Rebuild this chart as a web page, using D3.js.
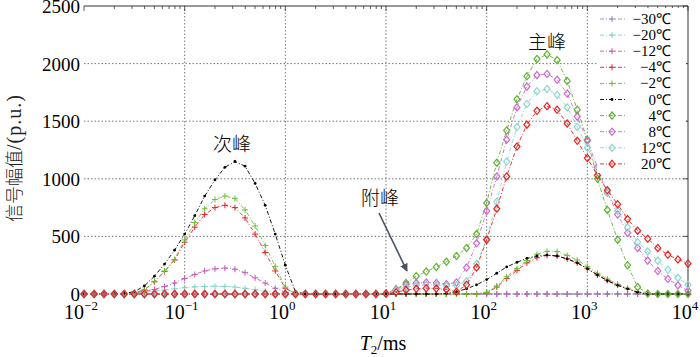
<!DOCTYPE html>
<html lang="zh">
<head>
    <meta charset="UTF-8">
    <title>T2 spectra</title>
    <script src="https://d3js.org/d3.v7.min.js"></script>
    <style>
        body {margin: 0; background: white;}
        text {font-family: "Liberation Serif", "Times New Roman", serif;}
        .cjk {font-family: "Noto Sans CJK SC", sans-serif; font-weight: 300;}
        .grid {stroke: #555; stroke-width: .8; stroke-dasharray: 1.5, 2; fill: none;}
    </style>
</head>
<body>
<script>
    const width = 700;
    const height = 357;

    // T2 grid (ms), 10 points per decade
    const t2 = [
        0.01, 0.0126, 0.0158, 0.02, 0.0251, 0.0316, 0.0398, 0.0501, 0.0631, 0.0794,
        0.1, 0.126, 0.158, 0.2, 0.251, 0.316, 0.398, 0.501, 0.631, 0.794,
        1, 1.26, 1.58, 2, 2.51, 3.16, 3.98, 5.01, 6.31, 7.94,
        10, 12.6, 15.8, 20, 25.1, 31.6, 39.8, 50.1, 63.1, 79.4,
        100, 126, 158, 200, 251, 316, 398, 501, 631, 794,
        1000, 1260, 1580, 2000, 2510, 3160, 3980, 5010, 6310, 7940,
        10000
    ];

    const labels = ["\u221230\u2103", "\u221220\u2103", "\u221212\u2103", "\u22124\u2103", "\u22122\u2103",
                    "0\u2103", "4\u2103", "8\u2103", "12\u2103", "20\u2103"];
    const colors = ["#8c8cc8", "#7fd3c3", "#c65ab2", "#e8232b", "#6cbd3a",
                    "#000000", "#5fb232", "#cc6acb", "#8fd6cd", "#e8211f"];
    const markers = ["plus", "plus", "plus", "plus", "plus", "dot", "diamond", "diamond", "diamond", "diamond"];

    const m30 = [
        0, 0, 0, 0, 0, 0, 0, 0, 0, 0,   0, 0, 0, 0, 0, 0, 0, 0, 0, 0,
        0, 0, 0, 0, 0, 0, 0, 0, 0, 0,   0, 0, 0, 0, 0, 0, 0, 0, 0, 0,
        0, 0, 0, 0, 0, 0, 0, 0, 0, 0,   0, 0, 0, 0, 0, 0, 0, 0, 0, 0, 0
    ];
    const m20 = [
        0, 0, 0, 0, 3, 8, 15, 25, 35, 45,   55, 62, 66, 68, 66, 60, 50, 38, 25, 12,
        4, 0, 0, 0, 0, 0, 0, 0, 0, 0,   0, 0, 0, 0, 0, 0, 0, 0, 0, 0,
        0, 0, 0, 0, 0, 0, 0, 0, 0, 0,   0, 0, 0, 0, 0, 0, 0, 0, 0, 0, 0
    ];
    const m12 = [
        0, 0, 0, 0, 5, 12, 25, 40, 65, 95,   135, 170, 200, 218, 225, 215, 185, 140, 95, 50,
        15, 0, 0, 0, 0, 0, 0, 0, 0, 0,   0, 0, 0, 0, 0, 0, 0, 0, 0, 0,
        0, 0, 0, 0, 0, 0, 0, 0, 0, 0,   0, 0, 0, 0, 0, 0, 0, 0, 0, 0, 0
    ];
    const m4 = [
        0, 0, 0, 0, 2, 10, 35, 105, 195, 295,   450, 580, 690, 750, 770, 750, 660, 520, 360, 200,
        50, 0, 0, 0, 0, 0, 0, 0, 0, 0,   0, 0, 0, 0, 0, 0, 0, 0, 0, 0,
        10, 60, 135, 205, 270, 315, 335, 330, 305, 270,   220, 165, 118, 78, 45, 15, 0, 0, 0, 0, 0
    ];
    const m2 = [
        0, 0, 0, 0, 2, 10, 35, 110, 200, 300,   470, 620, 740, 820, 850, 830, 730, 590, 420, 240,
        60, 0, 0, 0, 0, 0, 0, 0, 0, 0,   0, 0, 0, 0, 0, 0, 0, 0, 0, 0,
        15, 70, 150, 220, 290, 345, 370, 368, 335, 295,   240, 180, 130, 85, 50, 18, 0, 0, 0, 0, 0
    ];
    const p0 = [
        0, 0, 0, 2, 6, 20, 70, 155, 260, 380,   520, 680, 850, 990, 1100, 1150, 1110, 960, 770, 520,
        250, 20, 0, 0, 0, 0, 0, 0, 0, 0,   0, 0, 0, 0, 0, 0, 5, 20, 45, 80,
        125, 180, 235, 275, 310, 330, 338, 330, 305, 270,   220, 165, 115, 75, 45, 15, 0, 0, 0, 0, 0
    ];
    const p4 = [
        0, 0, 0, 0, 0, 0, 0, 0, 0, 0,   0, 0, 0, 0, 0, 0, 0, 0, 0, 0,
        0, 0, 0, 0, 0, 0, 0, 0, 0, 0,   5, 40, 95, 155, 195, 235, 280, 330, 400, 520,
        790, 1140, 1420, 1690, 1890, 2040, 2080, 2030, 1850, 1600,   1340, 1000, 730, 470, 250, 60, 5, 0, 0, 0, 0
    ];
    const p8 = [
        0, 0, 0, 0, 0, 0, 0, 0, 0, 0,   0, 0, 0, 0, 0, 0, 0, 0, 0, 0,
        0, 0, 0, 0, 0, 0, 0, 0, 0, 0,   5, 40, 80, 95, 100, 95, 85, 100, 230, 440,
        720, 1020, 1340, 1620, 1800, 1900, 1910, 1860, 1740, 1540,   1330, 1100, 880, 690, 530, 400, 290, 200, 130, 75, 30
    ];
    const p12 = [
        0, 0, 0, 0, 0, 0, 0, 0, 0, 0,   0, 0, 0, 0, 0, 0, 0, 0, 0, 0,
        0, 0, 0, 0, 0, 0, 0, 0, 0, 0,   5, 30, 60, 75, 80, 78, 70, 75, 110, 260,
        480, 800, 1150, 1450, 1650, 1760, 1780, 1730, 1620, 1450,   1270, 1080, 880, 720, 580, 450, 370, 290, 210, 140, 80
    ];
    const p20 = [
        0, 0, 0, 0, 0, 0, 0, 0, 0, 0,   0, 0, 0, 0, 0, 0, 0, 0, 0, 0,
        0, 0, 0, 0, 0, 0, 0, 0, 0, 0,   3, 15, 35, 45, 50, 48, 40, 20, 80, 230,
        470, 740, 1020, 1280, 1470, 1590, 1630, 1600, 1480, 1330,   1180, 1030, 900, 780, 650, 550, 480, 400, 340, 300, 265
    ];
    const seriesValues = [m30, m20, m12, m4, m2, p0, p4, p8, p12, p20];

    const yTicks = [0, 500, 1000, 1500, 2000, 2500];
    const xTicks = [0.01, 0.1, 1, 10, 100, 1000, 10000];
    const xTickExp = ["\u22122", "\u22121", "0", "1", "2", "3", "4"];

    const svg = d3.select("body").append("svg")
            .attr("width", width).attr("height", height);

    const x = d3.scaleLog().domain([0.01, 10000]).range([84, 688]);
    const y = d3.scaleLinear().domain([0, 2500]).range([294, 6]);

    // grid
    svg.append("g").selectAll("line")
            .data(yTicks.filter(d => d > 0 && d < 2500))
            .join("line").attr("class", "grid")
            .attr("x1", x.range()[0]).attr("x2", x.range()[1])
            .attr("y1", d => y(d)).attr("y2", d => y(d));
    svg.append("g").selectAll("line")
            .data(xTicks.slice(1, -1))
            .join("line").attr("class", "grid")
            .attr("x1", d => x(d)).attr("x2", d => x(d))
            .attr("y1", y(0)).attr("y2", y(2500));

    // frame: top and right
    svg.append("path")
            .attr("d", `M${x.range()[0]},${y(2500)}H${x.range()[1]}V${y(0)}`)
            .style("fill", "none").style("stroke", "#333").style("stroke-width", 1);

    // minor log ticks on top
    const minor = [];
    xTicks.slice(0, -1).forEach(d => [2, 3, 4, 5, 6, 7, 8, 9].forEach(k => minor.push(d * k)));
    svg.append("g").selectAll("line").data(minor.concat(xTicks)).join("line")
            .attr("x1", d => x(d)).attr("x2", d => x(d))
            .attr("y1", y(2500)).attr("y2", d => y(2500) + (xTicks.includes(d) ? 5 : 3))
            .style("stroke", "#333").style("stroke-width", .8);
    // right ticks
    svg.append("g").selectAll("line").data(yTicks).join("line")
            .attr("x1", x.range()[1] - 5).attr("x2", x.range()[1])
            .attr("y1", d => y(d)).attr("y2", d => y(d))
            .style("stroke", "#333").style("stroke-width", .8);

    // y tick labels
    svg.append("g").selectAll("text").data(yTicks).join("text")
            .attr("x", 80).attr("y", d => y(d) + 7)
            .attr("text-anchor", "end")
            .style("font-size", "19px")
            .text(d => d);

    // x tick labels
    const xl = svg.append("g").selectAll("text").data(xTicks).join("text")
            .attr("x", d => x(d) - 3).attr("y", 319)
            .attr("text-anchor", "middle")
            .style("font-size", "20px");
    xl.append("tspan").text("10");
    xl.append("tspan").attr("dy", -9).style("font-size", "13px").text((d, i) => xTickExp[i]);

    // axis titles
    const xt = svg.append("text").attr("x", 383).attr("y", 350)
            .attr("text-anchor", "middle").style("font-size", "20px");
    xt.append("tspan").style("font-style", "italic").text("T");
    xt.append("tspan").attr("dy", 4).style("font-size", "13px").text("2");
    xt.append("tspan").attr("dy", -4).text("/ms");

    const yt = svg.append("text")
            .attr("transform", "translate(21,158) rotate(-90)")
            .attr("text-anchor", "middle").style("font-size", "18px").style("fill", "#222");
    yt.append("tspan").attr("class", "cjk").text("信号幅值");
    yt.append("tspan").style("letter-spacing", "1px").style("font-size", "20px").text("/(p.u.)");

    // markers
    function markerPath(type) {
        if (type === "plus") return "M-3,0H3M0,-3V3";
        if (type === "diamond") return "M0,-3.6L3,0L0,3.6L-3,0Z";
        return null;
    }

    const line = d3.line().x(d => x(d[0])).y(d => y(d[1]));

    seriesValues.forEach((vals, s) => {
        const pts = t2.map((t, i) => [t, vals[i]]);
        const g = svg.append("g").attr("class", "series");
        g.append("path").datum(pts)
                .attr("d", line)
                .style("fill", "none")
                .style("stroke", colors[s])
                .style("stroke-width", .9)
                .style("stroke-dasharray", "4,2,1,2");
        if (markers[s] === "dot") {
            g.selectAll("circle").data(pts).join("circle")
                    .attr("cx", d => x(d[0])).attr("cy", d => y(d[1]))
                    .attr("r", 1.4).style("fill", colors[s]);
        } else {
            g.selectAll("path.m").data(pts).join("path").attr("class", "m")
                    .attr("transform", d => `translate(${x(d[0])},${y(d[1])})`)
                    .attr("d", markerPath(markers[s]))
                    .style("fill", "none")
                    .style("stroke", colors[s])
                    .style("stroke-width", markers[s] === "plus" ? 1 : 1.2);
        }
    });

    // legend
    const legend = svg.append("g");
    legend.append("rect").attr("x", 597).attr("y", 8).attr("width", 89).attr("height", 165)
            .style("fill", "white");
    labels.forEach((lab, i) => {
        const ly = 19 + i * 16.1;
        legend.append("line").attr("x1", 600).attr("x2", 625).attr("y1", ly).attr("y2", ly)
                .style("stroke", colors[i]).style("stroke-width", .9).style("stroke-dasharray", "4,2,1,2");
        if (markers[i] === "dot") {
            legend.append("circle").attr("cx", 612).attr("cy", ly).attr("r", 1.4).style("fill", colors[i]);
        } else {
            legend.append("path").attr("transform", `translate(612,${ly})`)
                    .attr("d", markerPath(markers[i]))
                    .style("fill", "none").style("stroke", colors[i])
                    .style("stroke-width", markers[i] === "plus" ? 1 : 1.2);
        }
        legend.append("text").attr("x", 671).attr("y", ly + 5)
                .attr("text-anchor", "end").style("font-size", "15px").text(lab);
    });

    // annotations
    svg.append("text").attr("class", "cjk").attr("x", 232).attr("y", 151)
            .attr("text-anchor", "middle").style("font-size", "19px").text("次峰");
    svg.append("text").attr("class", "cjk").attr("x", 547).attr("y", 49)
            .attr("text-anchor", "middle").style("font-size", "19px").text("主峰");
    svg.append("text").attr("class", "cjk").attr("x", 380).attr("y", 205)
            .attr("text-anchor", "middle").style("font-size", "19px").text("附峰");

    svg.append("defs").append("marker").attr("id", "arrow")
            .attr("viewBox", "0 0 10 10").attr("refX", 9).attr("refY", 5)
            .attr("markerWidth", 5).attr("markerHeight", 5).attr("orient", "auto")
            .append("path").attr("d", "M0,0L10,5L0,10Z").style("fill", "#4b5168");
    svg.append("line").attr("x1", 379).attr("y1", 213).attr("x2", 407).attr("y2", 271)
            .style("stroke", "#4b5168").style("stroke-width", 1.6)
            .attr("marker-end", "url(#arrow)");
</script>
</body>
</html>
